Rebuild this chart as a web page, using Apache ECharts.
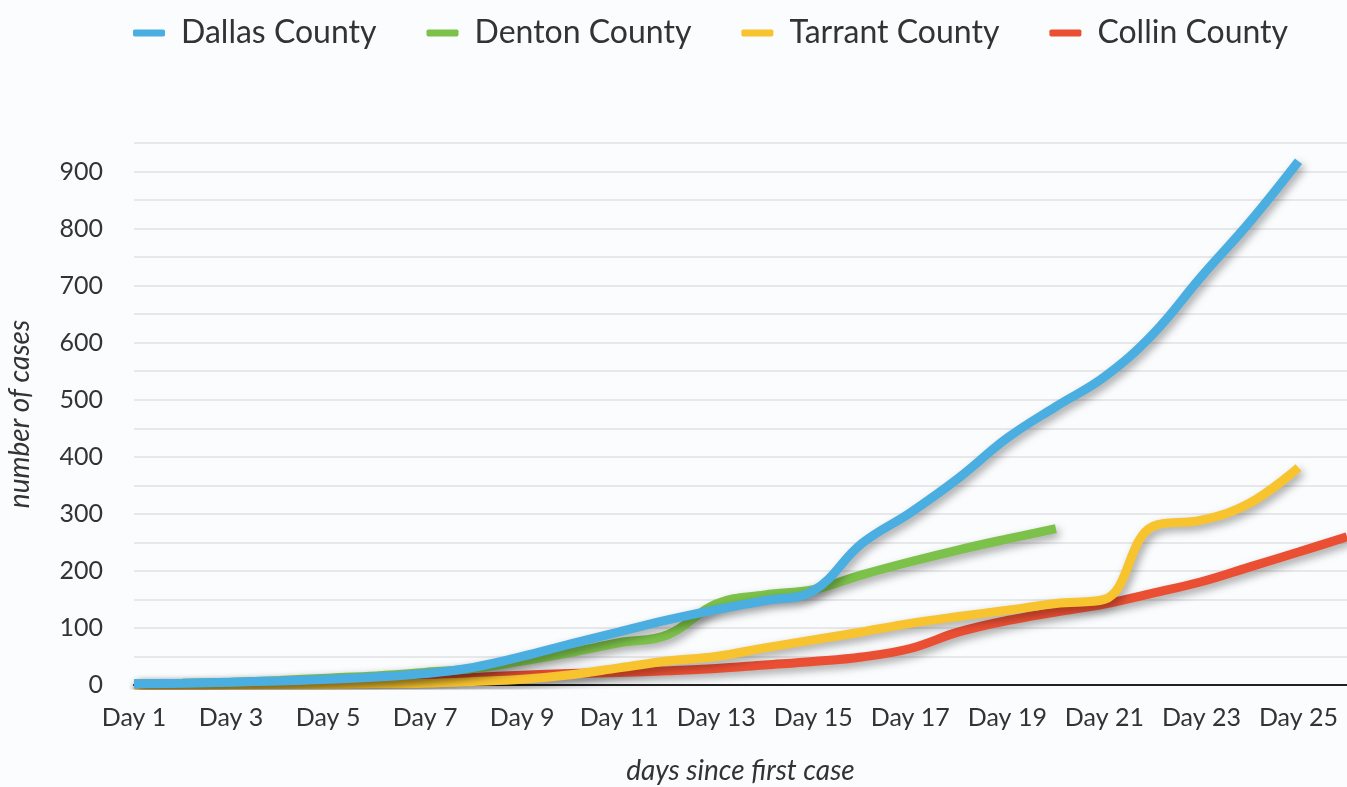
<!DOCTYPE html>
<html>
<head>
<meta charset="utf-8">
<script src="https://cdn.jsdelivr.net/npm/echarts@6/dist/echarts.min.js"></script>
<style>
html,body{margin:0;padding:0;background:#fbfcfd;}
#chart{width:1347px;height:787px;}
</style>
</head>
<body>
<div id="chart"></div>
<script>
const days = ['Day 1','Day 2','Day 3','Day 4','Day 5','Day 6','Day 7','Day 8','Day 9','Day 10','Day 11','Day 12','Day 13','Day 14','Day 15','Day 16','Day 17','Day 18','Day 19','Day 20','Day 21','Day 22','Day 23','Day 24','Day 25','Day 26'];
const dallas  = [2,3,5,7,10,14,20,31,50,72,93,114,132,148,165,248,302,363,433,488,540,615,716,812,918,null];
const denton  = [2,3,5,8,12,16,22,29,42,57,74,88,142,158,167,193,216,237,256,274,null,null,null,null,null,null];
const tarrant = [0,0,0,1,1,2,3,6,10,18,30,42,50,65,79,93,108,120,131,143,150,278,289,319,381,null];
const collin  = [0,0,1,2,3,5,8,13,17,20,22,25,29,35,41,49,64,93,113,128,142,161,181,207,233,260];

const names = ['Dallas County','Denton County','Tarrant County','Collin County'];
const colors = {'Dallas County':'#4BAEE0','Denton County':'#7CC14A','Tarrant County':'#F7C32E','Collin County':'#EB4F33'};

function mk(name, data){
  return {
    name: name, type:'line', data: data, smooth: 0.4, showSymbol:false, symbol:'none',
    itemStyle:{color: colors[name]},
    lineStyle:{width:9, color: colors[name], cap:'butt',
      shadowColor:'rgba(0,0,0,0.35)', shadowBlur:8, shadowOffsetX:3, shadowOffsetY:4}
  };
}

const chart = echarts.init(document.getElementById('chart'), null, {renderer:'canvas'});
chart.setOption({
  backgroundColor:'#fbfcfd',
  animation:false,
  legend:{
    data: names, left:133, top:17, padding:0, itemWidth:32, itemHeight:7, itemGap:50,
    icon:'roundRect',
    textStyle:{fontFamily:'Lato', fontSize:32, color:'#333', padding:[0,0,0,11]}
  },
  grid:{left:134, right:0, top:143, bottom:102, containLabel:false, outerBoundsMode:'none'},
  xAxis:{
    type:'category', data: days, boundaryGap:false,
    axisLine:{lineStyle:{color:'#222', width:2}},
    axisTick:{show:false},
    axisLabel:{interval:1, fontFamily:'Lato', fontSize:25, color:'#333', margin:20},
    name:'days since first case', nameLocation:'middle', nameGap:72,
    nameTextStyle:{fontFamily:'Lato', fontStyle:'italic', fontSize:28, color:'#333'}
  },
  yAxis:{
    type:'value', min:0, max:950, interval:50,
    axisLine:{show:false}, axisTick:{show:false},
    splitLine:{lineStyle:{color:'#e2e0e3', width:1.5}},
    axisLabel:{fontFamily:'Lato', fontSize:25, color:'#333', margin:31,
      formatter: v => (v % 100 === 0 ? String(v) : '')},
    name:'number of cases', nameLocation:'middle', nameGap:100, nameRotate:90,
    nameTextStyle:{fontFamily:'Lato', fontStyle:'italic', fontSize:28, color:'#333'}
  },
  series:[ mk('Collin County', collin), mk('Tarrant County', tarrant), mk('Denton County', denton), mk('Dallas County', dallas) ]
});
</script>
</body>
</html>
